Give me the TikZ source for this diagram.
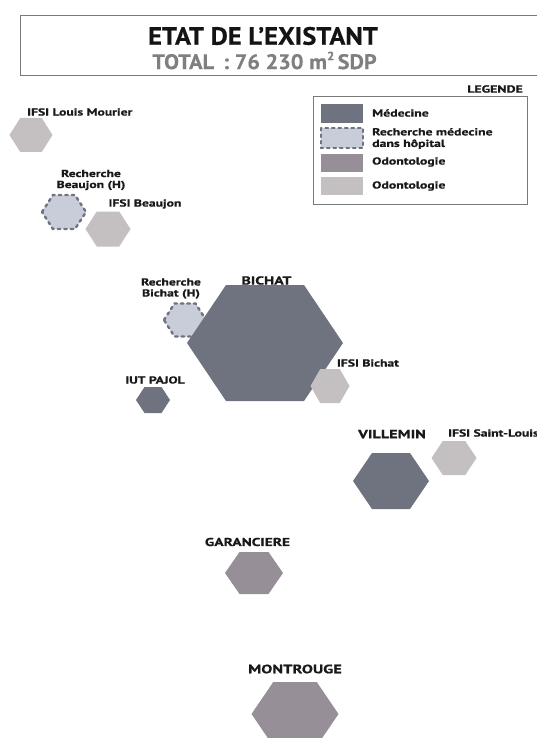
\documentclass[tikz,border=0pt]{standalone}
\usepackage{fontspec}
\setmainfont{PT Sans}
\newfontfamily\titlefont{PT Sans}[FakeStretch=1.06, BoldFeatures={FakeBold=0.4}]
\newfontfamily\lblfont{PT Sans}[FakeStretch=1.35, BoldFeatures={FakeBold=0.8}]
\definecolor{med}{HTML}{6F727F}
\definecolor{rech}{HTML}{C9CDD9}
\definecolor{odA}{HTML}{978F98}
\definecolor{odB}{HTML}{C4BFC0}
\definecolor{frame}{HTML}{7A7A7A}
\definecolor{subt}{HTML}{7F7F7F}
\newcommand\hexa[5]{%
  \path[#1] ({#2-#4},{#3}) -- ({#2-#4/2},{#3-#5}) -- ({#2+#4/2},{#3-#5})
    -- ({#2+#4},{#3}) -- ({#2+#4/2},{#3+#5}) -- ({#2-#4/2},{#3+#5}) -- cycle;}
\tikzset{
  medfill/.style={fill=med},
  rechfill/.style={fill=rech, draw=med, line width=2.4pt, dash pattern=on 2.5pt off 4pt, line cap=round},
  odAfill/.style={fill=odA},
  odBfill/.style={fill=odB},
  lbl/.style={font=\lblfont\bfseries\fontsize{10.1}{11}\selectfont, text=black!90, inner sep=0pt, align=center},
  biglbl/.style={font=\lblfont\bfseries\fontsize{11.6}{13}\selectfont, text=black!90, inner sep=0pt},
  leg/.style={font=\lblfont\bfseries\fontsize{10.2}{11.5}\selectfont, text=black!90, inner sep=0pt, anchor=west, align=left},
}
\begin{document}
\begin{tikzpicture}[x=1pt,y=-1pt]
\useasboundingbox (0,0) rectangle (536,738);
% title
\draw[frame, line width=1pt] (542,16) -- (20.5,16) -- (20.5,76) -- (542,76);
\node[font=\titlefont\bfseries\fontsize{25}{27}\selectfont, text=black!92, inner sep=0pt] (title) at (263,36) {ETAT DE L’EXISTANT};
\node[font=\titlefont\bfseries\fontsize{21}{23}\selectfont, text=subt, inner sep=0pt] (total) at (264.5,60.5) {TOTAL \,: 76 230 m\raisebox{0.42em}{\fontsize{12}{12}\selectfont 2}\,SDP};
% legend
\node[font=\lblfont\bfseries\fontsize{10.3}{11}\selectfont, text=black!90, inner sep=0pt, anchor=east] (legtitle) at (523,89) {LEGENDE};
\draw[frame, line width=1pt] (313,97) rectangle (527,204);
\fill[med] (321,104) rectangle (363,123);
\path[rechfill] (321,128) rectangle (363,148);
\fill[odA] (321,154) rectangle (363,172);
\fill[odB] (321,177) rectangle (363,195);
\node[leg] (l1) at (372,113) {Médecine};
\node[leg] (l2) at (372,138.5) {Recherche médecine\\dans hôpital};
\node[leg] (l3) at (372,162) {Odontologie};
\node[leg] (l4) at (372,186) {Odontologie};
% hexagons
\hexa{odBfill}{31}{135}{21.5}{17}
\hexa{rechfill}{64}{212}{22}{17}
\hexa{odBfill}{108}{229}{22.5}{17.5}
\hexa{rechfill}{185}{320}{21}{16.5}
\hexa{medfill}{265}{343}{78}{58}
\hexa{odBfill}{330}{386}{19.5}{17}
\hexa{medfill}{153}{400}{17}{13}
\hexa{medfill}{391}{481}{38}{28}
\hexa{odBfill}{454}{458}{22.5}{17}
\hexa{odAfill}{254}{573}{29}{21}
\hexa{odAfill}{295}{714}{43.5}{32}
% labels
\node[lbl, anchor=west] (louis) at (27,112) {IFSI Louis Mourier};
\node[lbl] (rbeaujon) at (91,180) {Recherche\\Beaujon (H)};
\node[lbl] (ifsibeaujon) at (145,204) {IFSI Beaujon};
\node[biglbl] (bichat) at (266.5,280.5) {BICHAT};
\node[lbl] (rbichat) at (171,288.5) {Recherche\\Bichat (H)};
\node[lbl] (ifsibichat) at (368,363) {IFSI Bichat};
\node[lbl] (iut) at (155,380) {IUT PAJOL};
\node[biglbl, font=\lblfont\bfseries\fontsize{12}{13}\selectfont] (villemin) at (392,434) {VILLEMIN};
\node[lbl, anchor=west] (stlouis) at (448,433) {IFSI Saint-Louis};
\node[biglbl, font=\lblfont\bfseries\fontsize{11.4}{13}\selectfont] (garanciere) at (247.5,542) {GARANCIERE};
\node[biglbl, font=\lblfont\bfseries\fontsize{12.2}{13}\selectfont] (montrouge) at (295,669) {MONTROUGE};
\end{tikzpicture}
\end{document}
